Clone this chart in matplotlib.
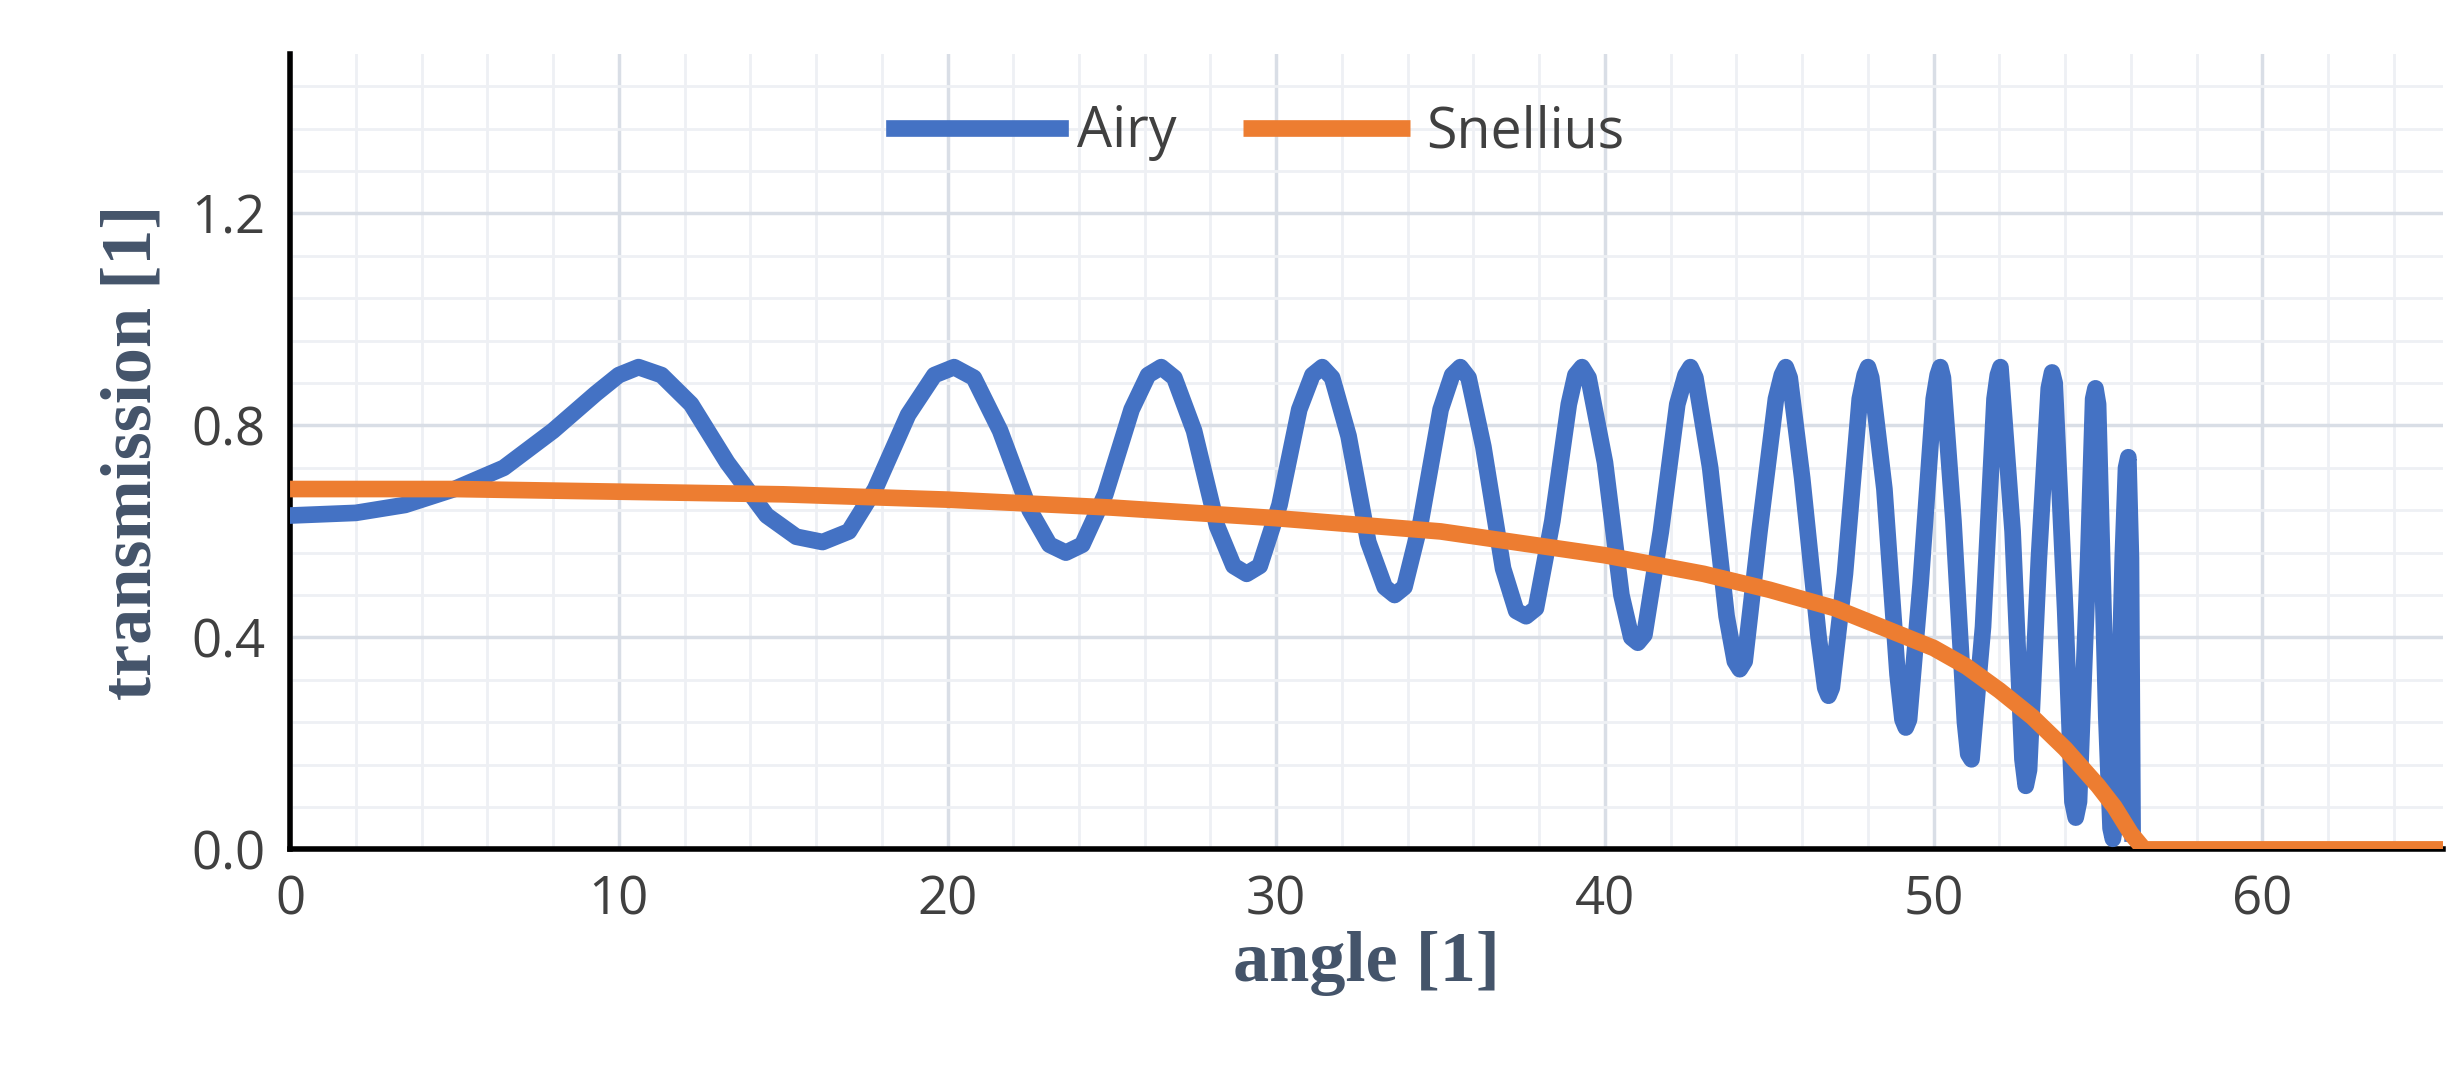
#!/usr/bin/env python3
"""Transmission vs angle: Airy vs Snellius."""

import matplotlib.pyplot as plt
from matplotlib.ticker import MultipleLocator

# Airy curve (angle, transmission)
airy_angle = [0, 2, 3.5, 5, 6.5, 8, 9.3, 10.0, 10.6, 11.3, 12.2, 13.3, 14.5, 15.4, 16.2,
              17.0, 17.8, 18.8, 19.6, 20.2, 20.8, 21.6, 22.5, 23.1, 23.6, 24.1, 24.8,
              25.6, 26.1, 26.5, 26.9, 27.5, 28.2, 28.7, 29.1, 29.5, 30.1, 30.7, 31.1,
              31.4, 31.7, 32.2, 32.8, 33.3, 33.6, 33.9, 34.4, 35.0, 35.35, 35.6, 35.85,
              36.3, 36.9, 37.3, 37.6, 37.9, 38.4, 38.9, 39.1, 39.3, 39.5, 40.0, 40.5,
              40.8, 41.0, 41.2, 41.7, 42.2, 42.45, 42.6, 42.75, 43.2, 43.7, 43.95, 44.1,
              44.25, 44.7, 45.2, 45.38, 45.5, 45.62, 46.0, 46.5, 46.7, 46.8, 46.9, 47.3,
              47.75, 47.9, 48.0, 48.1, 48.5, 48.9, 49.05, 49.15, 49.25, 49.6, 50.0,
              50.12, 50.2, 50.28, 50.6, 50.95, 51.05, 51.15, 51.5, 51.85, 51.95, 52.03,
              52.4, 52.7, 52.8, 52.9, 53.2, 53.5, 53.6, 53.68, 54.0, 54.22, 54.32, 54.42,
              54.7, 54.85, 54.92, 55.0, 55.25, 55.38, 55.45, 55.55, 55.75, 55.85, 55.92,
              56.0, 56.05]
airy_trans = [0.63, 0.635, 0.65, 0.68, 0.72, 0.79, 0.86, 0.895, 0.91, 0.895, 0.84, 0.73,
              0.63, 0.59, 0.58, 0.60, 0.68, 0.82, 0.895, 0.91, 0.89, 0.79, 0.64, 0.575,
              0.56, 0.575, 0.67, 0.83, 0.895, 0.91, 0.89, 0.79, 0.61, 0.535, 0.52, 0.535,
              0.65, 0.83, 0.895, 0.91, 0.89, 0.78, 0.58, 0.495, 0.48, 0.495, 0.62, 0.83,
              0.895, 0.91, 0.89, 0.76, 0.53, 0.45, 0.44, 0.455, 0.62, 0.84, 0.895, 0.91,
              0.89, 0.73, 0.48, 0.40, 0.39, 0.405, 0.60, 0.84, 0.895, 0.91, 0.89, 0.72,
              0.44, 0.355, 0.34, 0.355, 0.60, 0.85, 0.895, 0.91, 0.89, 0.70, 0.40, 0.305,
              0.29, 0.305, 0.52, 0.85, 0.895, 0.91, 0.89, 0.68, 0.33, 0.245, 0.23, 0.245,
              0.50, 0.85, 0.895, 0.91, 0.89, 0.62, 0.24, 0.18, 0.17, 0.42, 0.85, 0.895,
              0.91, 0.60, 0.17, 0.12, 0.15, 0.55, 0.87, 0.90, 0.88, 0.45, 0.09, 0.06,
              0.09, 0.55, 0.85, 0.87, 0.84, 0.25, 0.04, 0.02, 0.06, 0.55, 0.72, 0.74,
              0.55, 0.03]

# Snellius curve
snell_angle = [0, 5, 10, 15, 20, 25, 30, 35, 40, 43, 45, 47, 48, 50, 51, 52, 53, 54,
               55, 55.5, 56, 56.4, 65.5]
snell_trans = [0.68, 0.68, 0.675, 0.67, 0.66, 0.645, 0.625, 0.60, 0.555, 0.52, 0.49,
               0.455, 0.43, 0.38, 0.345, 0.30, 0.25, 0.19, 0.12, 0.08, 0.03, 0.0, 0.0]

LABEL_COLOR = "#44546a"
TICK_COLOR = "#404040"


def main():
    fig = plt.figure(figsize=(24.58, 10.89), dpi=100)
    ax = fig.add_axes([0.118, 0.22, 0.876, 0.73])

    ax.plot(airy_angle, airy_trans, color="#4472c4", linewidth=12, label="Airy",
            solid_joinstyle="round", zorder=3)
    ax.plot(snell_angle, snell_trans, color="#ed7d31", linewidth=12, label="Snellius",
            solid_capstyle="butt", solid_joinstyle="round", zorder=4)

    ax.set_xlim(0, 65.5)
    ax.set_ylim(0, 1.5)
    ax.xaxis.set_major_locator(MultipleLocator(10))
    ax.xaxis.set_minor_locator(MultipleLocator(2))
    ax.yaxis.set_major_locator(MultipleLocator(0.4))
    ax.yaxis.set_minor_locator(MultipleLocator(0.08))
    ax.yaxis.set_major_formatter(lambda v, p: f"{v:.1f}")

    ax.grid(which="major", color="#d9dee6", linewidth=2.5)
    ax.grid(which="minor", color="#eef0f4", linewidth=2)
    ax.set_axisbelow(True)

    for side in ("top", "right"):
        ax.spines[side].set_visible(False)
    for side in ("left", "bottom"):
        ax.spines[side].set_linewidth(4)
        ax.spines[side].set_color("black")

    ax.tick_params(which="both", length=0, pad=18)
    for lab in ax.get_xticklabels() + ax.get_yticklabels():
        lab.set_fontfamily("Open Sans")
        lab.set_fontsize(38)
        lab.set_color(TICK_COLOR)

    ax.set_xlabel("angle [1]", fontfamily="Liberation Serif", fontweight="bold",
                  fontsize=52, color=LABEL_COLOR, labelpad=2)
    ax.set_ylabel("transmission [1]", fontfamily="Liberation Serif", fontweight="bold",
                  fontsize=52, color=LABEL_COLOR, labelpad=18)

    leg = ax.legend(loc="upper center", bbox_to_anchor=(0.45, 1.0), ncol=2, frameon=False,
                    prop={"family": "Open Sans", "size": 40}, handlelength=3.0,
                    columnspacing=1.2, handletextpad=0.3)
    for t in leg.get_texts():
        t.set_color(TICK_COLOR)

    fig.savefig("out.png", dpi=100)
    plt.close(fig)


if __name__ == "__main__":
    main()
